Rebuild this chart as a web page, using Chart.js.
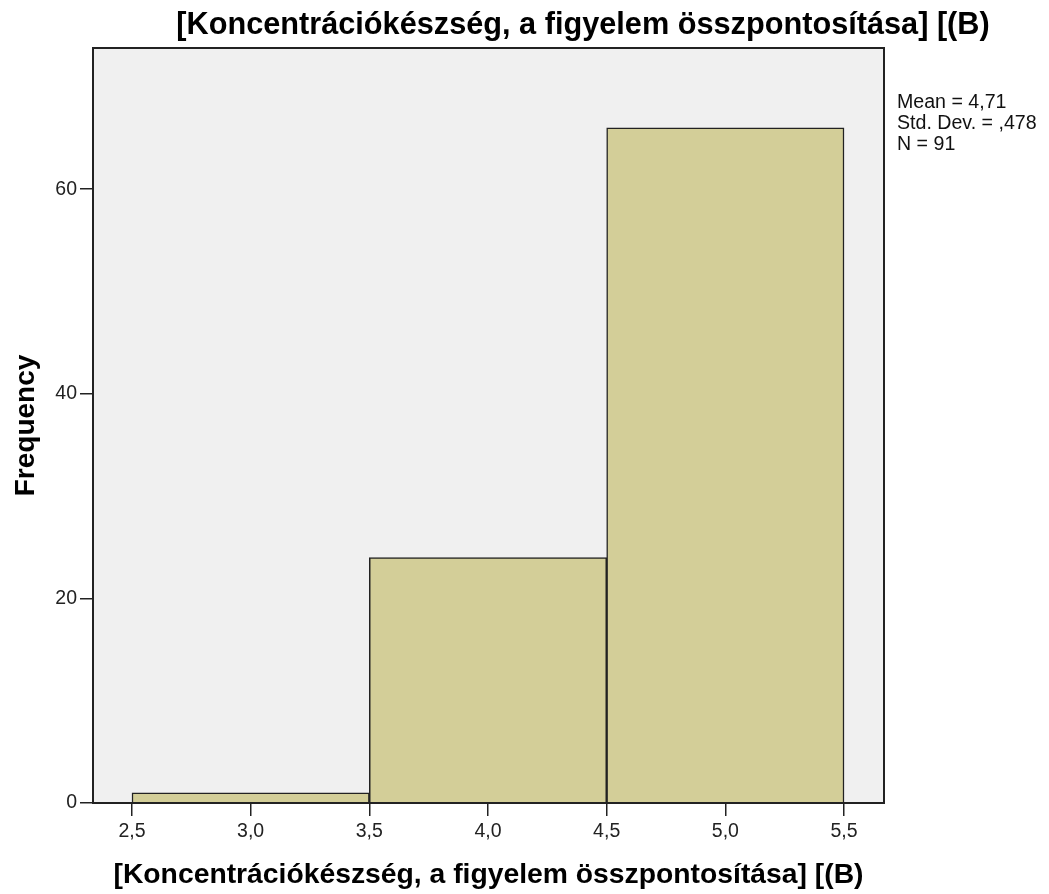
<!DOCTYPE html>
<html>
<head>
<meta charset="utf-8">
<script src="https://cdn.jsdelivr.net/npm/chart.js@4/dist/chart.umd.min.js"></script>
<style>
  html, body { margin: 0; padding: 0; background: #ffffff; }
  #wrap { width: 1049px; height: 894px; position: relative; }
</style>
</head>
<body>
<div id="wrap"><canvas id="hist"></canvas></div>
<script>
// Histogram data
const chartTitle = '[Koncentrációkészség, a figyelem összpontosítása] [(B)';
const xAxisTitle = '[Koncentrációkészség, a figyelem összpontosítása] [(B)';
const yAxisTitle = 'Frequency';
const binEdges = [2.5, 3.5, 4.5, 5.5];
const frequencies = [1, 24, 66];
const xTickValues = [2.5, 3.0, 3.5, 4.0, 4.5, 5.0, 5.5];
const yTickValues = [0, 20, 40, 60];
const statsLines = ['Mean = 4,71', 'Std. Dev. = ,478', 'N = 91'];

const FONT = '"Liberation Sans", Arial, Helvetica, sans-serif';

// one bar per bin, centred between its edges
const barPoints = frequencies.map((f, i) => ({ x: (binEdges[i] + binEdges[i + 1]) / 2, y: f }));

const plotFrame = {
  id: 'plotFrame',
  beforeDatasetsDraw(chart) {
    const { ctx, chartArea: a } = chart;
    ctx.save();
    ctx.fillStyle = '#f0f0f0';
    ctx.fillRect(a.left, a.top, a.right - a.left, a.bottom - a.top);
    ctx.restore();
  },
  afterDatasetsDraw(chart) {
    const { ctx, chartArea: a } = chart;
    ctx.save();
    ctx.strokeStyle = '#222222';
    ctx.lineWidth = 2;
    ctx.strokeRect(a.left, a.top, a.right - a.left, a.bottom - a.top);
    ctx.restore();
  },
  afterDraw(chart) {
    const { ctx } = chart;
    ctx.save();
    ctx.fillStyle = '#000000';
    ctx.textAlign = 'center';
    ctx.textBaseline = 'alphabetic';
    ctx.font = 'bold 30.7px ' + FONT;
    ctx.fillText(chartTitle, 583, 34);
    ctx.textAlign = 'left';
    ctx.font = '19.6px ' + FONT;
    ctx.fillStyle = '#111111';
    statsLines.forEach((line, i) => ctx.fillText(line, 897, 108 + i * 21));
    ctx.restore();
  }
};

new Chart(document.getElementById('hist'), {
  type: 'bar',
  plugins: [plotFrame],
  data: {
    datasets: [{
      label: yAxisTitle,
      data: barPoints,
      backgroundColor: 'rgb(211, 206, 152)',
      borderColor: '#222222',
      borderWidth: 1.5,
      barThickness: 'flex',
      barPercentage: 1,
      categoryPercentage: 1
    }]
  },
  options: {
    responsive: true,
    maintainAspectRatio: false,
    animation: false,
    devicePixelRatio: 1,
    layout: { padding: { top: 48, right: 165, bottom: 0, left: 0 } },
    plugins: {
      legend: { display: false },
      tooltip: { enabled: false },
      title: { display: false }
    },
    scales: {
      x: {
        type: 'linear',
        offset: false,
        min: 2.3357,
        max: 5.6685,
        afterFit(scale) { scale.height = 91; },
        afterBuildTicks(scale) { scale.ticks = xTickValues.map(v => ({ value: v })); },
        grid: { offset: false, drawOnChartArea: false, drawTicks: true, tickLength: 13, color: '#222222', lineWidth: 1.5 },
        border: { display: true, color: '#222222', width: 2 },
        ticks: {
          padding: 4,
          color: '#222222',
          font: { family: FONT, size: 19.5 },
          maxRotation: 0,
          callback: v => v.toFixed(1).replace('.', ',')
        },
        title: {
          display: true,
          text: xAxisTitle,
          color: '#000000',
          font: { family: FONT, size: 28.3, weight: 'bold', lineHeight: 1.2 },
          padding: { top: 0, bottom: 2 }
        }
      },
      y: {
        type: 'linear',
        min: 0,
        max: 73.8,
        afterFit(scale) { scale.width = 93; },
        afterBuildTicks(scale) { scale.ticks = yTickValues.map(v => ({ value: v })); },
        grid: { drawOnChartArea: false, drawTicks: true, tickLength: 13, color: '#222222', lineWidth: 1.5 },
        border: { display: true, color: '#222222', width: 2 },
        ticks: {
          padding: 3,
          color: '#222222',
          font: { family: FONT, size: 19.5 },
          callback: v => String(v)
        },
        title: {
          display: true,
          text: yAxisTitle,
          color: '#000000',
          font: { family: FONT, size: 28, weight: 'bold', lineHeight: 1.2 },
          padding: { top: 9, bottom: 0 }
        }
      }
    }
  }
});
</script>
</body>
</html>
